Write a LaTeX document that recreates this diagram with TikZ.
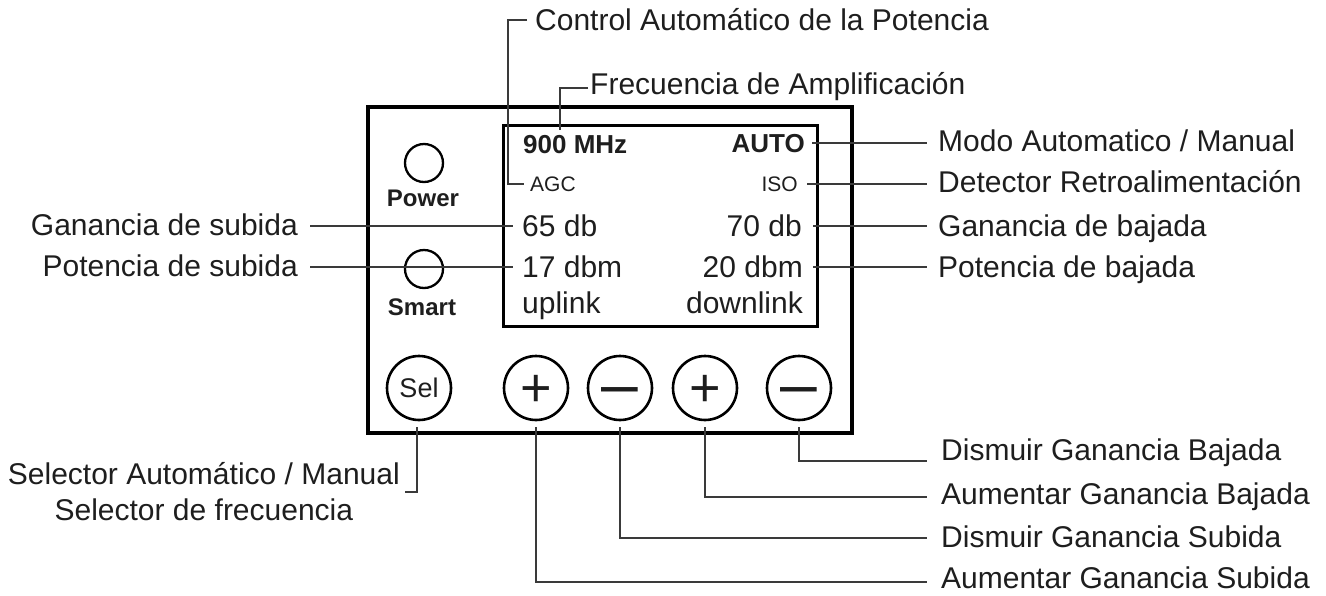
\documentclass[tikz,border=0pt]{standalone}
\usepackage{fontspec}
\setmainfont{Liberation Sans}
\usetikzlibrary{calc}
\definecolor{txt}{HTML}{1E1E1E}
\definecolor{ln}{HTML}{3A3A3A}
\begin{document}
\begin{tikzpicture}[x=1pt,y=-1pt,
  lbl/.style={font=\fontsize{30}{36}\selectfont, text=txt, inner sep=0pt, text height=21.4pt, text depth=0pt},
  scrbold/.style={font=\fontsize{26}{30}\selectfont\bfseries, text=txt, inner sep=0pt, text height=18.6pt, text depth=0pt},
  scrsmall/.style={font=\fontsize{21}{24}\selectfont, text=txt, inner sep=0pt, text height=15pt, text depth=0pt},
  multi/.style={font=\fontsize{30}{36}\selectfont, text=txt, inner sep=0pt, align=center},
  lead/.style={draw=ln, line width=1.4pt},
  frame/.style={draw=black, inner sep=0pt, outer sep=0pt, anchor=north west},
  led/.style={circle, draw=black, line width=2.3pt, minimum size=38pt, inner sep=0pt, outer sep=0pt},
  ledlbl/.style={font=\fontsize{24}{28}\selectfont\bfseries, text=txt, inner sep=0pt, anchor=base},
  btn/.style={circle, draw=black, line width=2.6pt, minimum size=64pt, inner sep=0pt, outer sep=0pt, font=\fontsize{27}{30}\selectfont, text=txt},
]
\useasboundingbox (0,0) rectangle (1326,595);

% panel and screen
\node[frame, line width=3.5pt, minimum width=484pt, minimum height=326pt] (panel) at (368,107) {};
\node[frame, line width=3pt, minimum width=314pt, minimum height=201pt] (screen) at (503,125) {};

% indicators
\node[led] (pwr) at (424,163) {};
\node[ledlbl] (pwrl) at (423,206) {Power};
\node[led] (smt) at (424,269) {};
\node[ledlbl] (smtl) at (422,315) {Smart};

% buttons
\node[btn] (sel) at (419,388) {Sel};
\node[btn] (bp1) at (536,388) {\smash{\raisebox{-18.4pt}{\fontsize{54}{56}\selectfont +}}};
\node[btn] (bm1) at (620,388) {\smash{\raisebox{-18pt}{\fontsize{66}{68}\selectfont –}}};
\node[btn] (bp2) at (705,388) {\smash{\raisebox{-18.4pt}{\fontsize{54}{56}\selectfont +}}};
\node[btn] (bm2) at (799,388) {\smash{\raisebox{-18pt}{\fontsize{66}{68}\selectfont –}}};

% screen texts
\node[scrbold, anchor=west] (mhz) at (523,144) {900 MHz};
\node[scrbold, anchor=east] (auto) at (805,143) {AUTO};
\node[scrsmall, anchor=west] (agc) at (530,184) {AGC};
\node[scrsmall, anchor=east] (iso) at (798,184) {ISO};
\node[lbl, anchor=west] (g65) at (522,226) {65 db};
\node[lbl, anchor=east] (g70) at (802,226) {70 db};
\node[lbl, anchor=west] (p17) at (522,267) {17 dbm};
\node[lbl, anchor=east] (p20) at (803,267) {20 dbm};
\node[lbl, anchor=west] (upl) at (522,303) {uplink};
\node[lbl, anchor=east] (dwl) at (803,303) {downlink};

% top labels
\node[lbl, anchor=west] (ctl) at (535,20) {Control Automático de la Potencia};
\node[lbl, anchor=west] (frq) at (590,84) {Frecuencia de Amplificación};
\coordinate (ctlbend) at (508,100);
\coordinate (frqend) at (560,130);

% right labels
\node[lbl, anchor=west] (modo) at (938,141) {Modo Automatico / Manual};
\node[lbl, anchor=west] (det) at (938,182) {Detector Retroalimentación};
\node[lbl, anchor=west] (gb) at (938,226) {Ganancia de bajada};
\node[lbl, anchor=west] (pb) at (938,267) {Potencia de bajada};

% left labels
\node[lbl, anchor=east] (gs) at (298,225) {Ganancia de subida};
\node[lbl, anchor=east] (ps) at (298,266) {Potencia de subida};

% bottom labels
\node[multi, anchor=east] (selx) at (400,492) {Selector Automático / Manual\\Selector de frecuencia};
\node[lbl, anchor=west] (dgb) at (941,450) {Dismuir Ganancia Bajada};
\node[lbl, anchor=west] (agb) at (941,494) {Aumentar Ganancia Bajada};
\node[lbl, anchor=west] (dgs) at (941,537) {Dismuir Ganancia Subida};
\node[lbl, anchor=west] (ags) at (941,578) {Aumentar Ganancia Subida};

% connectors
\draw[lead, shorten <=8pt, shorten >=6pt] (ctl.west) -| (ctlbend) |- (agc.west);
\draw[lead, shorten <=2pt] ([yshift=-4pt]frq.west) -| (frqend);
\draw[lead, shorten <=7pt, shorten >=11pt] (auto.east) -- (auto.east -| modo.west);
\draw[lead, shorten <=9pt, shorten >=11pt] (iso.east) -- (iso.east -| det.west);
\draw[lead, shorten <=11pt, shorten >=11pt] (g70.east) -- (g70.east -| gb.west);
\draw[lead, shorten <=10pt, shorten >=11pt] (p20.east) -- (p20.east -| pb.west);
\draw[lead, shorten <=12pt, shorten >=9pt] (gs.east |- g65.west) -- (g65.west);
\draw[lead, shorten <=12pt, shorten >=9pt] (ps.east |- p17.west) -- (p17.west);
\draw[lead, shorten >=5pt] ([xshift=-2pt,yshift=-7pt]sel.south) |- (selx.east);
\draw[lead, shorten >=14pt] ([yshift=-7pt]bm2.south) |- ([yshift=-11pt]dgb.west);
\draw[lead, shorten >=14pt] ([yshift=-7pt]bp2.south) |- ([yshift=-3pt]agb.west);
\draw[lead, shorten >=14pt] ([yshift=-7pt]bm1.south) |- ([yshift=-1pt]dgs.west);
\draw[lead, shorten >=14pt] ([yshift=-7pt]bp1.south) |- ([yshift=-4pt]ags.west);
\end{tikzpicture}
\end{document}
